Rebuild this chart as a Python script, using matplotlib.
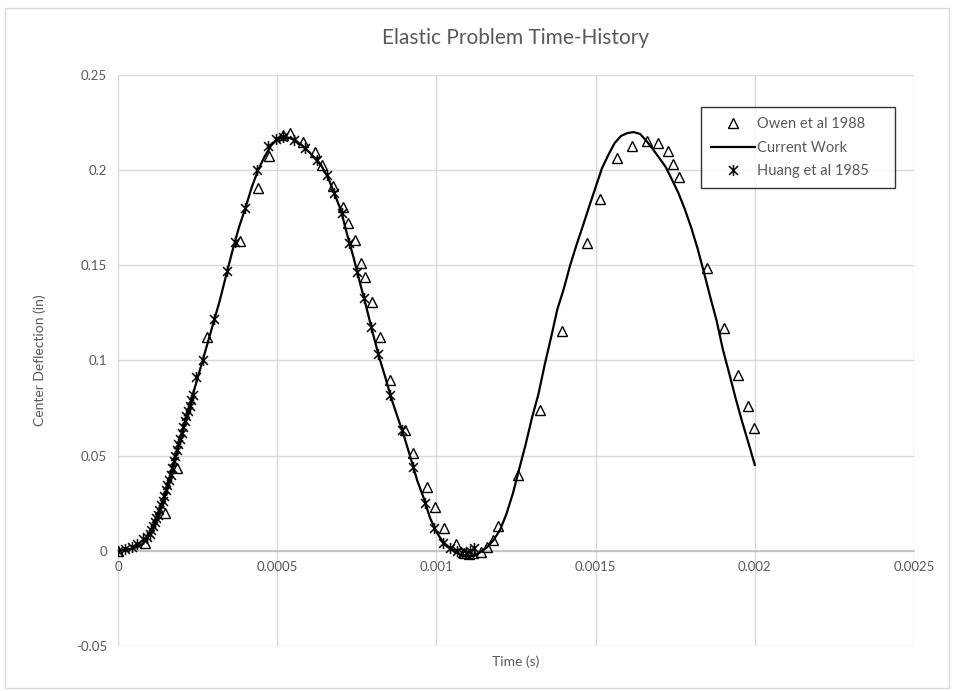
import matplotlib
matplotlib.use("Agg")
import matplotlib.pyplot as plt
from matplotlib.path import Path
from matplotlib.patches import Rectangle

# Owen et al 1988 (time s, deflection in)
owen_t = [0.0, 0.000085, 0.000148, 0.000185, 0.000280, 0.000383, 0.000440, 0.000474,
          0.000518, 0.000540, 0.000581, 0.000619, 0.000641, 0.000675, 0.000707, 0.000722,
          0.000744, 0.000763, 0.000776, 0.000798, 0.000823, 0.000854, 0.000901, 0.000926,
          0.000970, 0.000996, 0.001024, 0.001062, 0.001087, 0.001102, 0.001115, 0.001140,
          0.001159, 0.001178, 0.001193, 0.001256, 0.001325, 0.001395, 0.001473, 0.001514,
          0.001568, 0.001614, 0.001661, 0.001696, 0.001727, 0.001743, 0.001762, 0.001850,
          0.001903, 0.001947, 0.001979, 0.001998]
owen_d = [0.0, 0.0042, 0.0200, 0.0436, 0.1124, 0.1628, 0.1907, 0.2075,
          0.2185, 0.2195, 0.2148, 0.2096, 0.2027, 0.1917, 0.1807, 0.1723,
          0.1633, 0.1513, 0.1439, 0.1308, 0.1124, 0.0898, 0.0636, 0.0515,
          0.0336, 0.0231, 0.0121, 0.0037, -0.0010, -0.0016, -0.0010, -0.0005,
          0.0021, 0.0058, 0.0131, 0.0399, 0.0741, 0.1155, 0.1618, 0.1849,
          0.2064, 0.2127, 0.2153, 0.2143, 0.2101, 0.2033, 0.1964, 0.1486,
          0.1171, 0.0924, 0.0762, 0.0646]

# Current Work
cur_t = [0.0, 0.00004, 0.00006, 0.00008, 0.00010, 0.00012, 0.00014, 0.00016, 0.00018,
         0.00020, 0.00022, 0.00024, 0.00026, 0.00028, 0.00030, 0.00032, 0.00034, 0.00036,
         0.00038, 0.00040, 0.00042, 0.00044, 0.00046, 0.00048, 0.00050, 0.00052, 0.00054,
         0.00056, 0.00058, 0.00060, 0.00062, 0.00064, 0.00066, 0.00068, 0.00070, 0.00072,
         0.00074, 0.00076, 0.00078, 0.00080, 0.00082, 0.00084, 0.00086, 0.00088, 0.00090,
         0.00092, 0.00094, 0.00096, 0.00098, 0.00100, 0.00102, 0.00104, 0.00106, 0.00108,
         0.00110, 0.00112, 0.00114, 0.00116, 0.00118, 0.00120, 0.00122, 0.00124, 0.00126,
         0.00128, 0.00130, 0.00132, 0.00134, 0.00136, 0.00138, 0.00140, 0.00142, 0.00144,
         0.00146, 0.00148, 0.00150, 0.00152, 0.00154, 0.00156, 0.00158, 0.00160, 0.00162,
         0.00164, 0.00166, 0.00168, 0.00170, 0.00172, 0.00174, 0.00176, 0.00178, 0.00180,
         0.00182, 0.00184, 0.00186, 0.00188, 0.00190, 0.00192, 0.00194, 0.00196, 0.00198,
         0.00200]
cur_d = [0.0, 0.0010, 0.0020, 0.0040, 0.0090, 0.0170, 0.0260, 0.0370, 0.0500,
         0.0620, 0.0735, 0.0850, 0.0966, 0.1083, 0.1200, 0.1317, 0.1450, 0.1580,
         0.1700, 0.1800, 0.1910, 0.2000, 0.2070, 0.2127, 0.2164, 0.2174, 0.2169,
         0.2153, 0.2127, 0.2096, 0.2059, 0.2020, 0.1960, 0.1875, 0.1790, 0.1660,
         0.1540, 0.1408, 0.1280, 0.1145, 0.1019, 0.0909, 0.0793, 0.0693, 0.0593,
         0.0483, 0.0368, 0.0278, 0.0173, 0.0100, 0.0047, 0.0016, -0.0005, -0.0026,
         -0.0030, -0.0026, -0.0005, 0.0020, 0.0058, 0.0110, 0.0194, 0.0300, 0.0430,
         0.0557, 0.0698, 0.0820, 0.0977, 0.1120, 0.1270, 0.1376, 0.1500, 0.1607,
         0.1707, 0.1810, 0.1910, 0.2010, 0.2080, 0.2143, 0.2180, 0.2195, 0.2200,
         0.2190, 0.2153, 0.2110, 0.2064, 0.2017, 0.1950, 0.1880, 0.1796, 0.1700,
         0.1590, 0.1465, 0.1334, 0.1210, 0.1056, 0.0930, 0.0800, 0.0680, 0.0567,
         0.0452]

# Huang et al 1985
huang_t = [0.0, 0.000022, 0.000044, 0.00006, 0.00008, 0.00009, 0.00010, 0.000105, 0.00011,
           0.000115, 0.00012, 0.000125, 0.00013, 0.000135, 0.00014, 0.000145, 0.00015,
           0.000155, 0.00016, 0.000165, 0.00017, 0.000175, 0.00018, 0.000185, 0.00019,
           0.000195, 0.00020, 0.000205, 0.00021, 0.000215, 0.00022, 0.000225, 0.00023,
           0.000235, 0.000245, 0.000267, 0.000302, 0.000342, 0.000367, 0.000399, 0.000437,
           0.000471, 0.000496, 0.000518, 0.000553, 0.000587, 0.000625, 0.000656, 0.000678,
           0.000704, 0.000726, 0.000751, 0.000773, 0.000795, 0.000817, 0.000854, 0.000892,
           0.000926, 0.000964, 0.000992, 0.001021, 0.001043, 0.001065, 0.001080, 0.001093,
           0.001106, 0.001118]
huang_d = [0.0, 0.0008, 0.0022, 0.0035, 0.0060, 0.0075, 0.0090, 0.0110, 0.0130,
           0.0150, 0.0170, 0.0190, 0.0215, 0.0240, 0.0260, 0.0290, 0.0320,
           0.0345, 0.0370, 0.0400, 0.0435, 0.0470, 0.0500, 0.0530, 0.0560,
           0.0590, 0.0620, 0.0650, 0.0680, 0.0710, 0.0735, 0.0760, 0.0790,
           0.0820, 0.0914, 0.1003, 0.1218, 0.1470, 0.1623, 0.1800, 0.2000,
           0.2127, 0.2164, 0.2174, 0.2159, 0.2117, 0.2054, 0.1975, 0.1880,
           0.1775, 0.1618, 0.1465, 0.1329, 0.1176, 0.1035, 0.0819, 0.0636,
           0.0441, 0.0252, 0.0121, 0.0042, 0.0016, 0.0000, -0.0010, -0.0010,
           0.0000, 0.0015]

x_ticks = [0, 0.0005, 0.001, 0.0015, 0.002, 0.0025]
x_labels = ["0", "0.0005", "0.001", "0.0015", "0.002", "0.0025"]
y_ticks = [-0.05, 0, 0.05, 0.1, 0.15, 0.2, 0.25]
y_labels = ["-0.05", "0", "0.05", "0.1", "0.15", "0.2", "0.25"]

plt.rcParams['font.family'] = ['Lato', 'DejaVu Sans']
grey = '#595959'
grid = '#d9d9d9'

# asterisk marker: X with a vertical stroke
star = Path([(-1, -1), (1, 1), (-1, 1), (1, -1), (0, -1.25), (0, 1.25)],
            [Path.MOVETO, Path.LINETO, Path.MOVETO, Path.LINETO, Path.MOVETO, Path.LINETO])

fig = plt.figure(figsize=(9.54, 6.91), dpi=100)
fig.patches.append(Rectangle((5 / 954, 3 / 691), 944 / 954, 680 / 691, transform=fig.transFigure,
                             fill=False, edgecolor=grid, linewidth=1))
ax = fig.add_axes([118 / 954, 45 / 691, 796 / 954, 571 / 691])

ax.plot(owen_t, owen_d, linestyle='none', marker='^', markersize=7.5, markerfacecolor='none',
        markeredgecolor='black', markeredgewidth=1.0, label='Owen et al 1988', zorder=3)
ax.plot(cur_t, cur_d, color='black', linewidth=1.6, label='Current Work', zorder=4)
ax.plot(huang_t, huang_d, linestyle='none', marker=star, markersize=8, markerfacecolor='none',
        markeredgecolor='black', markeredgewidth=1.1, label='Huang et al 1985', zorder=5)

ax.set_xlim(0, 0.0025)
ax.set_ylim(-0.05, 0.25)
ax.set_xticks(x_ticks)
ax.set_xticklabels(x_labels)
ax.set_yticks(y_ticks)
ax.set_yticklabels(y_labels)
ax.tick_params(length=0, labelsize=9.5, colors=grey, pad=8)
ax.tick_params(axis='x', pad=7)
ax.grid(True, color=grid, linewidth=1)
ax.set_axisbelow(True)
for s in ['top', 'right', 'left']:
    ax.spines[s].set_visible(False)
ax.spines['bottom'].set_position(('data', 0))
ax.spines['bottom'].set_color('#bfbfbf')
ax.spines['bottom'].set_linewidth(1.2)

fig.text(516 / 954, 1 - 38 / 691, 'Elastic Problem Time-History', ha='center', va='center',
         fontsize=15, color=grey)
fig.text(516 / 954, 1 - 662 / 691, 'Time (s)', ha='center', va='center', fontsize=10, color=grey)
fig.text(40 / 954, 1 - 360 / 691, 'Center Deflection (in)', ha='center', va='center',
         rotation=90, fontsize=10, color=grey)

# legend box stretched to a fixed width
leg = ax.legend(loc='upper left', bbox_to_anchor=(701 / 954, 1 - 107 / 691, 194 / 954, 0),
                bbox_transform=fig.transFigure, mode='expand', frameon=True, fancybox=False,
                fontsize=10.5, labelcolor=grey, borderpad=0.7, labelspacing=0.65,
                handlelength=3.0, handletextpad=0.15, borderaxespad=0)
leg.get_frame().set_edgecolor('black')
leg.get_frame().set_linewidth(1.0)

fig.savefig('out.png', dpi=100)
